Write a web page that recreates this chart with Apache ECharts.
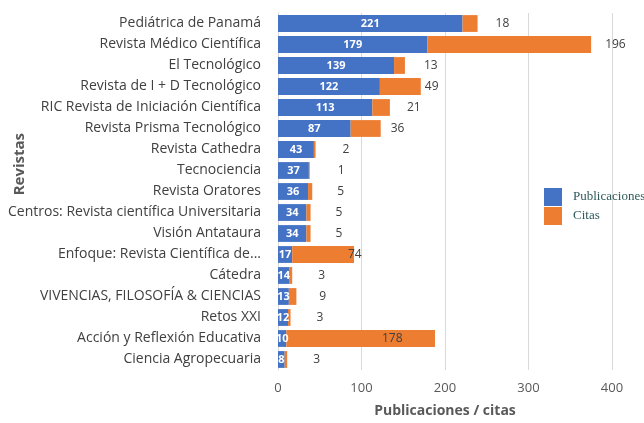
<!DOCTYPE html>
<html><head><meta charset="utf-8">
<script src="https://cdn.jsdelivr.net/npm/echarts@6/dist/echarts.min.js"></script>
<style>html,body{margin:0;padding:0;background:#fff}#c{width:644px;height:423px}</style>
</head><body><div id="c"></div>
<script>
const categories = ["Pediátrica de Panamá","Revista Médico Científica","El Tecnológico","Revista de I + D Tecnológico","RIC Revista de Iniciación Científica","Revista Prisma Tecnológico","Revista Cathedra","Tecnociencia","Revista Oratores","Centros: Revista científica Universitaria","Visión Antataura","Enfoque: Revista Científica de...","Cátedra","VIVENCIAS, FILOSOFÍA & CIENCIAS","Retos XXI","Acción y Reflexión Educativa","Ciencia Agropecuaria"];
const publicaciones = [221,179,139,122,113,87,43,37,36,34,34,17,14,13,12,10,8];
const citas = [18,196,13,49,21,36,2,1,5,5,5,74,3,9,3,178,3];
const xTicks = [0,100,200,300,400];
// label distance styling for citas labels (as in the source image)
const citaLabelGap = [18,14,19,4,17,10,27,28,25,25,25,-6,26,23,26,-53,26];

const cats = categories.slice().reverse();
const pub = publicaciones.slice().reverse();
const cit = citas.slice().reverse();
const gap = citaLabelGap.slice().reverse();

const chart = echarts.init(document.getElementById('c'), null, {renderer:'canvas'});
const font = 'Open Sans';
chart.setOption({
  animation:false,
  grid:{left:278, right:32, top:13, bottom:42},
  legend:{
    orient:'vertical', left:539, top:183, itemWidth:18, itemHeight:18, itemGap:1,
    icon:'rect',
    textStyle:{fontFamily:'Liberation Serif', fontSize:13, color:'#2f5a5a', padding:[0,0,0,6]},
    data:['Publicaciones','Citas']
  },
  xAxis:{
    type:'value', min:0, max:400, interval:100,
    axisLine:{show:false}, axisTick:{show:false},
    splitLine:{lineStyle:{color:'#d9d9d9'}},
    axisLabel:{fontFamily:font, fontSize:13, color:'#595959', margin:12,
      formatter:v=>xTicks.includes(v)?String(v):''},
    name:'Publicaciones / citas', nameLocation:'middle', nameGap:34,
    nameTextStyle:{fontFamily:font, fontSize:14, fontWeight:'bold', color:'#595959'}
  },
  yAxis:{
    type:'category', data:cats,
    axisLine:{show:true, lineStyle:{color:'#d9d9d9'}}, axisTick:{show:false},
    axisLabel:{fontFamily:font, fontSize:14, color:'#404040', margin:17}
  },
  graphic:[{type:'text', left:12, top:133, rotation:Math.PI/2,
    style:{text:'Revistas', font:'bold 15px "Open Sans"', fill:'#595959'}}],
  series:[
    {name:'Publicaciones', type:'bar', stack:'a', data:pub, barCategoryGap:'20%',
      itemStyle:{color:'#4472c4'},
      label:{show:true, position:'inside', color:'#fff', fontFamily:font, fontSize:11, fontWeight:'bold'}},
    {name:'Citas', type:'bar', stack:'a', barCategoryGap:'20%',
      itemStyle:{color:'#ed7d31'},
      data:cit.map((v,i)=>({value:v, label:{distance:gap[i]}})),
      label:{show:true, position:'right', color:'#404040', fontFamily:font, fontSize:12}}
  ]
});
</script></body></html>
